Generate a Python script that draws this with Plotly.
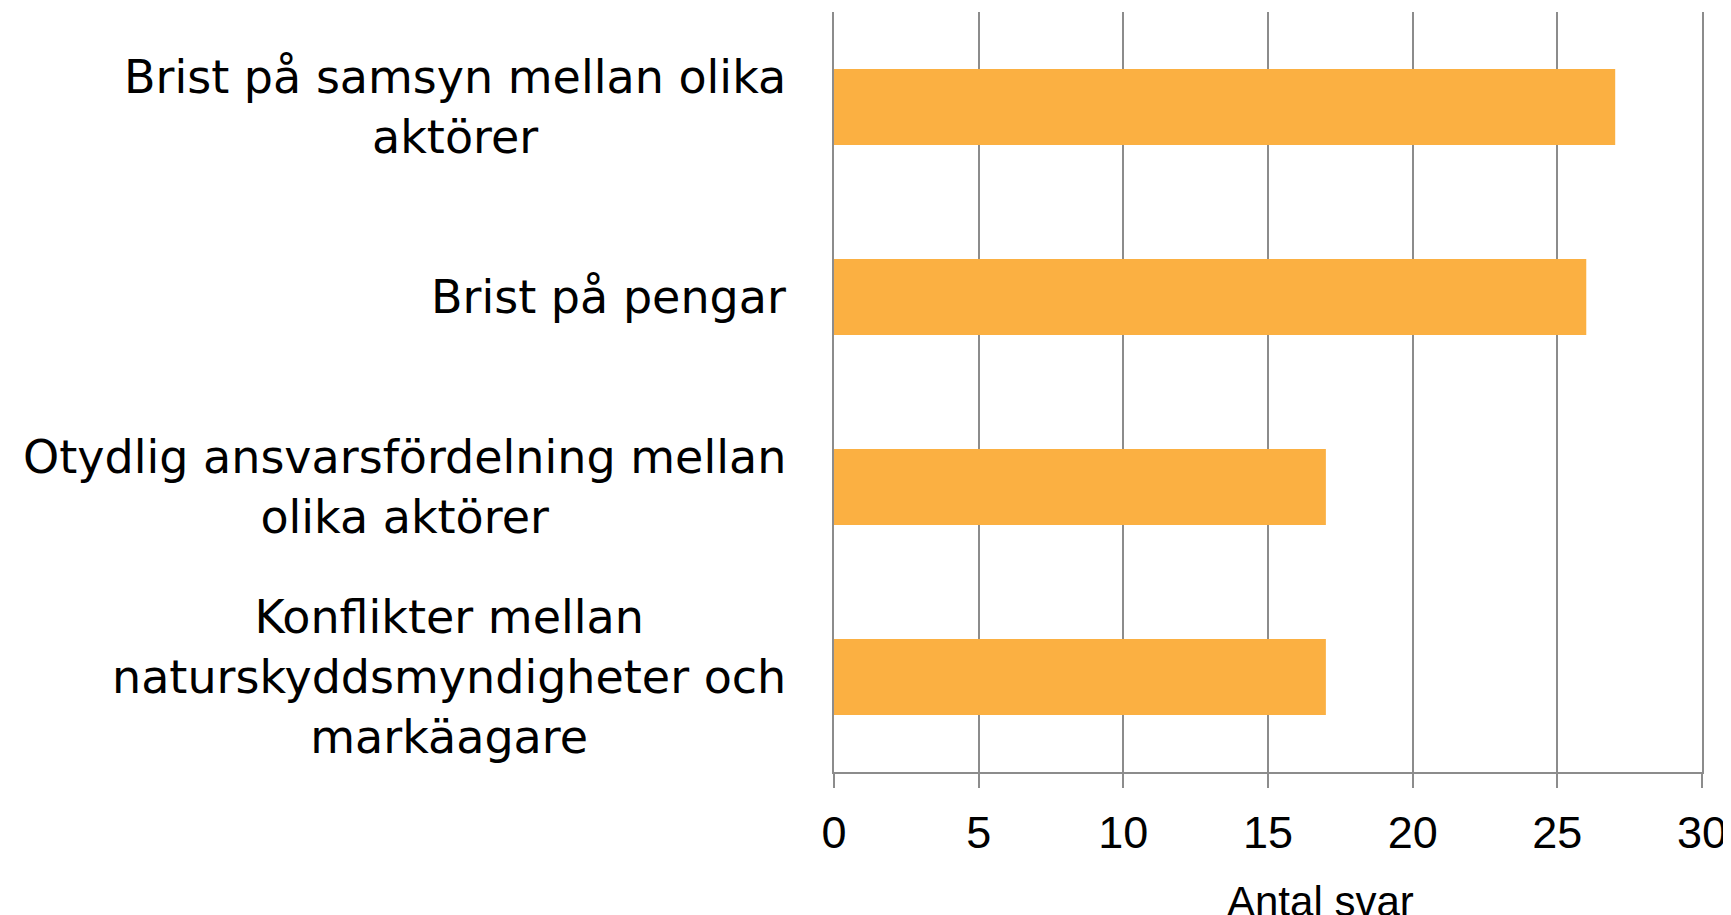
import plotly.graph_objects as go

CATEGORIES = [
    "Brist på samsyn mellan olika<br>aktörer",
    "Brist på pengar",
    "Otydlig ansvarsfördelning mellan<br>olika aktörer",
    "Konflikter mellan<br>naturskyddsmyndigheter och<br>markäagare",
]
VALUES = [27, 26, 17, 17]
X_TICKS = [0, 5, 10, 15, 20, 25, 30]
X_TITLE = "Antal svar"

BAR_COLOR = "#FBB042"
GRID = "#8C8C8C"
FONT = "Arial, Liberation Sans, sans-serif"
LABEL_FONT = "DejaVu Sans, Arial, sans-serif"

fig = go.Figure(
    go.Bar(
        x=VALUES,
        y=CATEGORIES,
        orientation="h",
        marker=dict(color=BAR_COLOR, line=dict(width=0)),
    )
)

# category labels as annotations so multi-line labels are centred per line
for cat in CATEGORIES:
    fig.add_annotation(
        x=0, xref="paper", y=cat, yref="y",
        text=cat, showarrow=False,
        xanchor="right", yanchor="middle", align="center",
        xshift=-46,
        font=dict(family=LABEL_FONT, size=46, color="#000000"),
    )

fig.add_annotation(
    x=0.56, xref="paper", y=0, yref="paper",
    text=X_TITLE, showarrow=False,
    xanchor="center", yanchor="top", yshift=-104,
    font=dict(family=FONT, size=42, color="#000000"),
)

# page body keeps an 8px margin, so the figure is sized to fit the window
fig.update_layout(
    width=1723,
    height=907,
    margin=dict(l=826, r=29, t=4, b=143),
    paper_bgcolor="white",
    plot_bgcolor="white",
    bargap=0.6,
    showlegend=False,
    font=dict(family=FONT, size=45, color="#000000"),
)
fig.update_xaxes(
    range=[0, 30],
    tickvals=X_TICKS,
    showgrid=True,
    gridcolor=GRID,
    gridwidth=1.5,
    zeroline=False,
    showline=True,
    linecolor=GRID,
    linewidth=2,
    ticks="outside",
    ticklen=14,
    tickwidth=2,
    tickcolor=GRID,
    ticklabelstandoff=6,
    automargin=False,
    tickfont=dict(family=FONT, size=45, color="#000000"),
)
fig.update_yaxes(
    categoryorder="array",
    categoryarray=CATEGORIES[::-1],
    showticklabels=False,
    showgrid=False,
    zeroline=False,
    showline=True,
    mirror=True,
    linecolor=GRID,
    linewidth=1.5,
)

fig.write_html("out.html")
